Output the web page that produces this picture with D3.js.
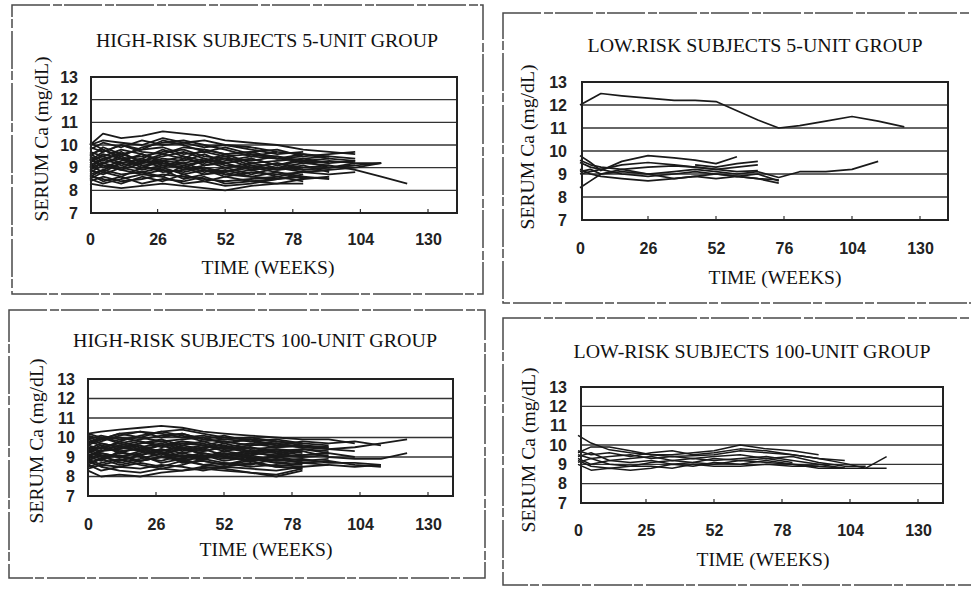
<!DOCTYPE html>
<html>
<head>
<meta charset="utf-8">
<script src="https://cdn.jsdelivr.net/npm/d3@7"></script>
<style>
  body { margin: 0; background: #fff; }
  svg { display: block; }
</style>
</head>
<body>
<div id="chart"></div>
<script>
// panel titles and tick labels, as printed
var titles = [
    "HIGH-RISK SUBJECTS 5-UNIT GROUP",
    "LOW.RISK SUBJECTS 5-UNIT GROUP",
    "HIGH-RISK SUBJECTS 100-UNIT GROUP",
    "LOW-RISK SUBJECTS 100-UNIT GROUP"
];
var yTicks = [7, 8, 9, 10, 11, 12, 13];
var xTicks = [0, 26, 52, 78, 104, 130];
var xLabelsHi5 = ["0", "26", "52", "78", "104", "130"];
var xLabelsLo5 = ["0", "26", "52", "76", "104", "130"];
var xLabelsHi100 = ["0", "26", "52", "78", "104", "130"];
var xLabelsLo100 = ["0", "25", "52", "78", "104", "130"];

// sampling weeks for each panel's subject lines
var weeksHi = [0, 5, 12, 20, 28, 36, 44, 52, 62, 72, 82, 92, 102, 112, 122];
var weeksLo5 = [0, 4, 8, 16, 26, 36, 44, 52, 60, 68, 76, 84, 94, 104, 114, 124];
var weeksLo100 = [0, 5, 12, 20, 28, 36, 44, 52, 62, 72, 82, 92, 102, 110, 118];

// serum Ca (mg/dL) per subject
var hiRisk5 = [
    [10.0, 10.5, 10.3, 10.4, 10.6, 10.5, 10.4, 10.2, 10.1, 10.0, 9.8, 9.7, 9.6],
    [9.8, 10.1, 9.9, 10.2, 10.0, 10.1, 9.9, 10.0, 9.8, 9.6, 9.7],
    [9.5, 9.9, 9.6, 9.8, 9.9, 9.6, 9.7, 9.5, 9.6, 9.4, 9.5, 9.6, 9.7],
    [9.2, 9.6, 9.4, 9.5, 9.7, 9.8, 9.5, 9.4, 9.3, 9.5, 9.2, 9.3, 9.2, 9.2],
    [9.6, 9.3, 9.7, 9.2, 9.4, 9.3, 9.6, 9.2, 9.4, 9.1, 9.3, 9.0, 9.1],
    [9.0, 9.4, 9.1, 9.3, 9.0, 9.4, 9.2, 9.4, 9.0, 9.2, 9.0, 9.1, 8.9, 8.6, 8.3],
    [8.8, 9.1, 8.9, 9.2, 9.3, 8.9, 9.0, 8.8, 9.1, 8.9, 9.1, 8.8],
    [8.6, 8.9, 8.7, 8.8, 9.0, 8.7, 8.9, 8.6, 8.8, 8.7, 8.8, 8.9, 9.0, 9.2],
    [8.4, 8.6, 8.4, 8.5, 8.7, 8.6, 8.5, 8.4, 8.5, 8.6, 8.4],
    [8.3, 8.2, 8.1, 8.2, 8.3, 8.2, 8.1, 8.0, 8.2, 8.3, 8.3],
    [9.9, 9.7, 10.0, 9.7, 9.6, 9.9, 9.8, 9.6, 9.7, 9.8, 9.5],
    [9.4, 9.0, 9.3, 9.6, 9.2, 9.1, 9.3, 9.6, 9.2, 9.3, 9.4, 9.2],
    [8.9, 8.7, 9.0, 8.8, 8.6, 9.1, 8.8, 9.0, 8.7, 9.0, 8.8, 8.7, 8.8],
    [9.1, 8.8, 8.6, 9.0, 8.9, 8.5, 8.7, 8.9, 8.6, 8.5, 8.7],
    [9.7, 9.5, 9.2, 9.4, 9.8, 9.5, 9.1, 9.3, 9.5, 9.4, 9.6, 9.4, 9.3],
    [8.7, 8.4, 8.6, 8.3, 8.5, 8.4, 8.6, 8.3, 8.4, 8.5],
    [9.3, 9.5, 9.8, 9.6, 9.3, 9.2, 9.4, 9.1, 9.0, 9.2, 8.9, 9.0, 9.1, 9.2],
    [8.5, 8.8, 9.2, 8.9, 9.1, 9.0, 8.7, 8.8, 9.0, 8.8, 8.6],
    [10.1, 9.8, 9.5, 9.9, 10.1, 10.2, 10.0, 9.8, 9.5, 9.7],
    [9.0, 9.2, 9.5, 9.1, 8.8, 8.9, 9.1, 9.2, 8.9, 9.0, 9.2, 9.1],
    [8.6, 8.5, 8.3, 8.6, 8.4, 8.7, 8.4, 8.2, 8.3, 8.5, 8.6, 8.5],
    [9.5, 9.2, 9.0, 9.3, 9.5, 9.7, 9.4, 9.2, 9.4, 9.1, 9.4, 9.5, 9.4],
    [9.3, 9.7, 10.0, 9.8, 10.2, 10.0, 9.7, 9.9, 9.6, 9.5, 9.3, 9.4],
    [8.9, 9.2, 9.4, 9.0, 9.3, 9.5, 9.3, 9.0, 9.2, 9.0, 8.9, 9.0, 9.2],
    [9.6, 9.8, 9.4, 9.1, 9.2, 9.0, 9.3, 9.5, 9.1, 8.9, 9.0],
    [8.7, 8.9, 9.2, 9.4, 9.1, 9.2, 8.9, 8.7, 8.9, 8.6, 8.8, 8.9],
    [9.4, 9.1, 8.9, 8.7, 8.9, 8.8, 9.0, 8.7, 8.6, 8.8, 8.5],
    [10.0, 10.2, 10.1, 10.0, 10.3, 10.1, 10.2, 10.0, 9.9, 9.7, 9.6, 9.5],
    [8.5, 8.3, 8.5, 8.7, 8.6, 8.3, 8.4, 8.6, 8.4, 8.3, 8.5, 8.6],
    [9.1, 9.4, 9.6, 9.3, 9.6, 9.4, 9.8, 9.6, 9.7, 9.4, 9.3, 9.2, 9.3]
];

var loRisk5 = [
    [12.0, 12.25, 12.5, 12.4, 12.3, 12.2, 12.2, 12.15, 11.75, 11.35, 11.0, 11.1, 11.3, 11.5, 11.3, 11.05],
    [9.8, 9.5, 9.15, 9.55, 9.8, 9.7, 9.6, 9.45, 9.75],
    [null, null, null, null, null, null, 9.4, 9.3, 9.45, 9.55],
    [8.4, 8.7, 9.0, 9.2, 9.3, 9.35, 9.3, 9.2, 9.1, 9.15],
    [9.2, 9.0, 8.9, 8.8, 8.7, 8.8, 8.9, 8.8, 8.9, 8.8, 8.6],
    [9.0, 9.1, 9.2, 9.0, 8.9, 9.0, 9.1, 9.0, 8.9, 9.0, 8.7],
    [9.5, 9.3, 9.2, 9.4, 9.5, 9.4, 9.3, 9.2, 9.3, 9.4],
    [9.1, 9.2, 9.0, 9.1, 9.0, 9.1, 9.2, 9.1, 9.0, 9.1, 8.85, 9.1, 9.1, 9.2, 9.55],
    [9.6, 9.4, 9.3, 9.2, 9.0, 8.8, 8.9, 9.0, 8.9, 8.8, 8.75]
];

var hiRisk100 = [
    [10.2, 10.3, 10.4, 10.5, 10.6, 10.5, 10.3, 10.2, 10.1, 10.0, 9.9, 9.9, 9.7],
    [10.0, 9.8, 10.1, 10.3, 10.2, 10.0, 10.1, 9.9, 9.8, 9.9, 9.7, 9.6],
    [9.7, 10.0, 9.7, 9.9, 10.1, 10.2, 9.9, 9.8, 9.6, 9.7, 9.5, 9.4, 9.5, 9.7, 9.9],
    [9.5, 9.3, 9.6, 9.8, 9.5, 9.7, 9.6, 9.4, 9.5, 9.3, 9.4, 9.2],
    [9.2, 9.5, 9.3, 9.4, 9.6, 9.3, 9.5, 9.6, 9.3, 9.4, 9.2],
    [8.9, 9.2, 9.0, 9.3, 9.1, 9.4, 9.2, 9.0, 9.2, 9.1, 9.3, 9.0, 8.9, 8.9, 9.2],
    [8.7, 8.9, 9.1, 8.8, 9.0, 8.9, 9.1, 8.8, 9.0, 8.8, 8.9, 8.7, 8.7, 8.6],
    [8.4, 8.6, 8.5, 8.7, 8.5, 8.8, 8.6, 8.7, 8.5, 8.6, 8.5, 8.6],
    [8.3, 8.0, 8.1, 8.0, 8.2, 8.3, 8.4, 8.3, 8.2, 8.0, 8.3],
    [9.9, 10.1, 9.9, 10.0, 9.8, 9.9, 10.0, 9.7, 9.9, 9.6, 9.8, 9.7, 9.8, 9.6],
    [9.6, 9.4, 9.8, 9.5, 9.3, 9.6, 9.4, 9.7, 9.4, 9.5, 9.6],
    [9.3, 9.6, 9.2, 9.1, 9.4, 9.2, 9.0, 9.3, 9.5, 9.2, 9.0, 9.1],
    [9.0, 8.8, 9.3, 9.0, 8.8, 9.1, 8.9, 9.2, 8.9, 9.0, 8.8],
    [8.8, 9.1, 8.7, 8.9, 9.2, 8.7, 8.8, 8.6, 8.8, 8.5, 8.7, 8.8, 8.6, 8.5],
    [10.1, 9.9, 10.2, 10.0, 10.3, 10.4, 10.2, 10.0, 9.9, 9.8],
    [9.4, 9.7, 9.5, 9.7, 9.9, 9.6, 9.8, 9.5, 9.7, 9.5, 9.6, 9.4, 9.3],
    [8.6, 8.3, 8.5, 8.4, 8.6, 8.5, 8.3, 8.5, 8.4, 8.3, 8.5],
    [9.1, 9.3, 9.6, 9.3, 9.0, 9.2, 9.4, 9.1, 9.3, 9.0, 9.1, 9.2, 9.0],
    [9.8, 9.6, 9.4, 9.7, 9.8, 9.5, 9.3, 9.5, 9.2, 9.4, 9.3],
    [8.5, 8.7, 8.9, 8.6, 8.4, 8.6, 8.9, 8.7, 8.6, 8.9, 8.7, 8.8],
    [9.5, 9.2, 9.0, 9.2, 9.4, 9.0, 9.2, 9.0, 8.8, 9.1, 9.0],
    [8.8, 8.5, 8.3, 8.2, 8.4, 8.3, 8.5, 8.4, 8.2, 8.1, 8.4],
    [9.7, 9.9, 10.0, 9.8, 9.6, 9.8, 9.6, 9.8, 9.6, 9.7, 9.5, 9.5],
    [9.3, 9.0, 8.8, 9.1, 9.3, 9.5, 9.1, 8.9, 9.1, 8.8, 8.9],
    [9.0, 9.3, 9.4, 9.6, 9.2, 9.0, 8.9, 9.1, 8.8, 8.9, 8.7, 8.6, 8.5, 8.6],
    [9.6, 9.9, 10.2, 10.3, 10.0, 10.2, 9.9, 10.1, 9.8, 9.6, 9.5],
    [9.1, 8.9, 9.2, 9.5, 9.7, 9.4, 9.6, 9.3, 9.1, 9.3, 9.1, 9.2],
    [8.6, 8.9, 8.6, 8.8, 9.0, 9.1, 8.8, 8.6, 8.9, 8.7, 8.6],
    [9.9, 9.7, 9.5, 9.3, 9.6, 9.8, 9.7, 9.4, 9.6, 9.8, 9.6, 9.5],
    [9.4, 9.1, 9.0, 8.8, 9.0, 8.8, 9.0, 9.2, 9.0, 8.7, 8.8, 8.9],
    [8.9, 8.6, 8.8, 9.1, 8.7, 8.9, 8.6, 8.5, 8.7, 8.5, 8.4],
    [10.2, 10.0, 9.8, 10.1, 10.3, 10.1, 9.8, 9.9, 10.0, 9.8, 9.7],
    [9.3, 9.5, 9.7, 9.4, 9.2, 9.4, 9.3, 9.5, 9.3, 9.2, 9.4, 9.3]
];

var loRisk100 = [
    [10.5, 10.1, 9.75, 9.6, 9.5, 9.4, 9.45, 9.5, 9.7, 9.6, 9.5, 9.3, 9.05, 8.8, 9.4],
    [9.6, 9.9, 9.9, 9.7, 9.5, 9.5, 9.6, 9.7, 10.0, 9.8, 9.7, 9.5],
    [9.5, 9.3, 9.4, 9.5, 9.3, 9.4, 9.3, 9.4, 9.5, 9.3, 9.4, 9.1, 8.9, 8.9],
    [9.3, 9.0, 9.2, 9.3, 9.4, 9.2, 9.3, 9.2, 9.3, 9.4, 9.2, 9.0, 8.8],
    [9.2, 8.9, 8.8, 8.9, 8.9, 8.8, 9.0, 8.9, 8.9, 9.0, 8.9, 8.9, 8.8, 8.8, 8.8],
    [9.0, 8.7, 8.8, 8.7, 8.8, 9.0, 8.9, 9.1, 9.0, 9.2, 9.0, 8.9],
    [9.7, 9.5, 9.6, 9.4, 9.6, 9.7, 9.5, 9.6, 9.8, 9.7, 9.5, 9.3, 9.2],
    [9.4, 9.6, 9.2, 9.1, 9.2, 9.0, 9.1, 9.3, 9.2, 9.3, 9.1],
    [9.1, 9.3, 9.0, 8.9, 9.1, 9.2, 9.1, 9.0, 9.2, 9.1, 9.0, 8.8, 8.8]
];

// page layout of the four scanned panels
var panels = [
    { title: titles[0], weeks: weeksHi, series: hiRisk5, xLabels: xLabelsHi5, lineW: 1.8,
      frame: [12, 5, 483, 294], left: 91, right: 457, top: 77, bottom: 213, x0: 90, x130: 428,
      yLabEnd: 78, xLabPad: 21, titlePos: [267, 47, 342], yTitle: [48, 139], xTitle: [268, 274] },
    { title: titles[1], weeks: weeksLo5, series: loRisk5, xLabels: xLabelsLo5, lineW: 1.7,
      frame: [503, 13, 980, 303], left: 582, right: 948, top: 82, bottom: 220, x0: 580, x130: 920,
      yLabEnd: 567, xLabPad: 23, titlePos: [755, 52, 335], yTitle: [534, 147], xTitle: [775, 284] },
    { title: titles[2], weeks: weeksHi, series: hiRisk100, xLabels: xLabelsHi100, lineW: 1.8,
      frame: [9, 310, 485, 578], left: 88, right: 453, top: 379, bottom: 496, x0: 88, x130: 428,
      yLabEnd: 75, xLabPad: 23, titlePos: [255, 347, 364], yTitle: [43, 441], xTitle: [266, 556] },
    { title: titles[3], weeks: weeksLo100, series: loRisk100, xLabels: xLabelsLo100, lineW: 1.5,
      frame: [503, 318, 980, 585], left: 581, right: 943, top: 387, bottom: 503, x0: 578, x130: 918,
      yLabEnd: 567, xLabPad: 22, titlePos: [752, 358, 357], yTitle: [535, 450], xTitle: [763, 566] }
];

var svg = d3.select("#chart")
    .append("svg")
    .attr("width", 971)
    .attr("height", 591);

svg.append("rect").attr("width", 971).attr("height", 591).attr("fill", "#fff");

var serif = "'Liberation Serif', 'DejaVu Serif', serif";

panels.forEach(function(p) {
    var g = svg.append("g");

    // outer panel border (scanned, slightly broken)
    g.append("rect")
        .attr("x", p.frame[0]).attr("y", p.frame[1])
        .attr("width", p.frame[2] - p.frame[0]).attr("height", p.frame[3] - p.frame[1])
        .attr("fill", "none").attr("stroke", "#4a4a4a").attr("stroke-width", 1.5)
        .attr("stroke-dasharray", "38,3,9,2");

    var x = d3.scaleLinear().domain([0, 130]).range([p.x0, p.x130]);
    var y = d3.scaleLinear().domain([7, 13]).range([p.bottom, p.top]);

    // horizontal grid
    g.append("g").selectAll("line")
        .data(yTicks.slice(1, -1))
        .enter().append("line")
        .attr("x1", p.left).attr("x2", p.right)
        .attr("y1", function(d) { return y(d); })
        .attr("y2", function(d) { return y(d); })
        .attr("stroke", "#333").attr("stroke-width", 1.4);

    // small week ticks along the floor
    g.append("g").selectAll("line")
        .data(xTicks.slice(1))
        .enter().append("line")
        .attr("x1", function(d) { return x(d); }).attr("x2", function(d) { return x(d); })
        .attr("y1", p.bottom).attr("y2", p.bottom - 4)
        .attr("stroke", "#333").attr("stroke-width", 1.2);

    // subject lines
    var line = d3.line()
        .defined(function(d) { return d[1] != null; })
        .x(function(d) { return x(d[0]); })
        .y(function(d) { return y(d[1]); });

    g.append("g").selectAll("path")
        .data(p.series)
        .enter().append("path")
        .attr("d", function(s) {
            return line(s.map(function(v, i) { return [p.weeks[i], v]; }));
        })
        .attr("fill", "none")
        .attr("stroke", "#1a1a1a")
        .attr("stroke-width", p.lineW)
        .attr("stroke-linejoin", "round");

    // plot box
    g.append("rect")
        .attr("x", p.left).attr("y", p.top)
        .attr("width", p.right - p.left).attr("height", p.bottom - p.top)
        .attr("fill", "none").attr("stroke", "#222").attr("stroke-width", 2);

    // axes (labels only, the box draws the frame)
    var yAxis = g.append("g")
        .attr("transform", "translate(" + p.left + ",0)")
        .call(d3.axisLeft(y).tickValues(yTicks).tickSize(0).tickPadding(p.left - p.yLabEnd)
            .tickFormat(d3.format("d")));
    var xAxis = g.append("g")
        .attr("transform", "translate(0," + p.bottom + ")")
        .call(d3.axisBottom(x).tickValues(xTicks).tickSize(0).tickPadding(p.xLabPad)
            .tickFormat(function(d, i) { return p.xLabels[i]; }));

    [yAxis, xAxis].forEach(function(a) {
        a.select(".domain").remove();
        a.selectAll("text")
            .attr("fill", "#222")
            .style("font-family", "'Liberation Sans', Arial, sans-serif")
            .style("font-weight", "bold")
            .style("font-size", "16px");
    });

    // titles
    g.append("text")
        .attr("x", p.titlePos[0]).attr("y", p.titlePos[1])
        .attr("text-anchor", "middle")
        .attr("textLength", p.titlePos[2]).attr("lengthAdjust", "spacingAndGlyphs")
        .style("font-family", serif).style("font-size", "19.5px")
        .attr("fill", "#111")
        .text(p.title);

    g.append("text")
        .attr("transform", "translate(" + p.yTitle[0] + "," + p.yTitle[1] + ") rotate(-90)")
        .attr("text-anchor", "middle")
        .attr("textLength", 165).attr("lengthAdjust", "spacingAndGlyphs")
        .style("font-family", serif).style("font-size", "19.5px")
        .attr("fill", "#111")
        .text("SERUM Ca (mg/dL)");

    g.append("text")
        .attr("x", p.xTitle[0]).attr("y", p.xTitle[1])
        .attr("text-anchor", "middle")
        .attr("textLength", 133).attr("lengthAdjust", "spacingAndGlyphs")
        .style("font-family", serif).style("font-size", "19.5px")
        .attr("fill", "#111")
        .text("TIME (WEEKS)");
});
</script>
</body>
</html>
